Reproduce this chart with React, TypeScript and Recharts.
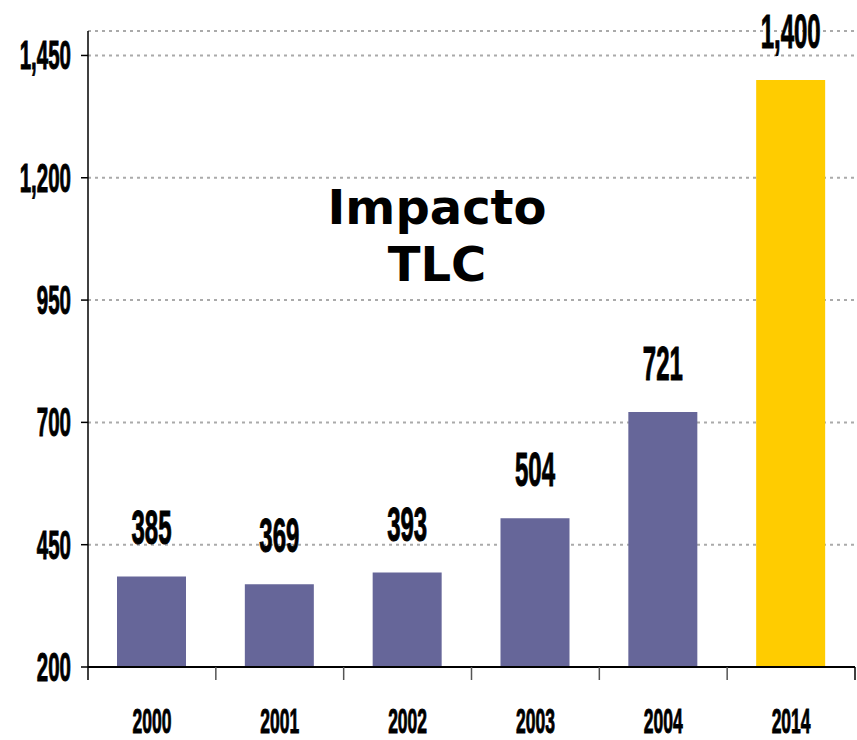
import { BarChart, Bar, XAxis, YAxis, CartesianGrid, Cell, LabelList } from 'recharts'

// Annual values, with the projected 2014 figure highlighted in yellow.
const years = ['2000', '2001', '2002', '2003', '2004', '2014']
const values = [385, 369, 393, 504, 721, 1400]
const barColors = ['#666699', '#666699', '#666699', '#666699', '#666699', '#FFCC00']
const yTicks = [200, 450, 700, 950, 1200, 1450]
const titleLines = ['Impacto', 'TLC']

const W = 857
const H = 740
const M = { top: 31, right: 2, bottom: 0, left: 0 }
const Y_W = 88
const BAND = (W - M.left - M.right - Y_W) / years.length
const NARROW = '"Liberation Sans", Arial, sans-serif'
const SX = 0.5

const data = years.map((year, i) => ({ year, value: values[i] }))
const fmt = (v: number) => v.toLocaleString('en-US')

// text squeezed horizontally to imitate the tall condensed face of the original
const squeezed = { fontFamily: NARROW, fontWeight: 'bold' as const, fill: '#000', stroke: '#000', strokeWidth: 1 }

function ValueTick({ x, y, payload }: any) {
  return (
    <text transform={`translate(${x},${y}) scale(${SX},1)`} textAnchor="end" dominantBaseline="central"
      fontSize={41} {...squeezed}>
      {fmt(payload.value)}
    </text>
  )
}

function YearTick({ x, y, payload, index }: any) {
  const half = BAND / 2
  return (
    <g>
      <line x1={x - half} x2={x - half} y1={y} y2={y + 13} stroke={index === 0 ? '#000' : '#555'} strokeWidth={1.5} />
      {index === years.length - 1 && <line x1={x + half} x2={x + half} y1={y} y2={y + 13} stroke="#000" strokeWidth={1.5} />}
      <text transform={`translate(${x},${y + 66}) scale(${SX},1)`} textAnchor="middle" fontSize={35} {...squeezed}>
        {payload.value}
      </text>
    </g>
  )
}

function BarValue({ x, y, width, value }: any) {
  return (
    <text transform={`translate(${x + width / 2},${y - 32}) scale(${SX},1)`} textAnchor="middle" fontSize={48} {...squeezed}>
      {fmt(value)}
    </text>
  )
}

export default function App() {
  return (
    <div style={{ position: 'absolute', left: 0, top: 0, width: W, height: H, background: '#fff' }}>
      <BarChart width={W} height={H} data={data} margin={M}>
        <CartesianGrid horizontal vertical={false} stroke="#aaaaaa" strokeWidth={2} strokeDasharray="3 4" />
        <XAxis dataKey="year" height={73} tickSize={0} tickMargin={0} tickLine={false}
          axisLine={{ stroke: '#000', strokeWidth: 2 }} tick={<YearTick />} interval={0} />
        <YAxis width={Y_W} domain={[200, 1500]} ticks={yTicks} allowDataOverflow tickSize={7} tickMargin={10}
          tickLine={{ stroke: '#000', strokeWidth: 1.5 }} axisLine={{ stroke: '#000', strokeWidth: 1.5 }} tick={<ValueTick />} />
        <Bar dataKey="value" barSize={69} isAnimationActive={false}>
          {data.map((d, i) => <Cell key={d.year} fill={barColors[i]} />)}
          <LabelList dataKey="value" content={<BarValue />} />
        </Bar>
      </BarChart>
      <div style={{ position: 'absolute', left: 437, top: 179, transform: 'translateX(-50%)', textAlign: 'center',
        fontFamily: '"DejaVu Sans", Verdana, sans-serif', fontWeight: 'bold', fontSize: 48, lineHeight: '57px', color: '#000', whiteSpace: 'nowrap' }}>
        {titleLines.map((l) => <div key={l}>{l}</div>)}
      </div>
    </div>
  )
}
